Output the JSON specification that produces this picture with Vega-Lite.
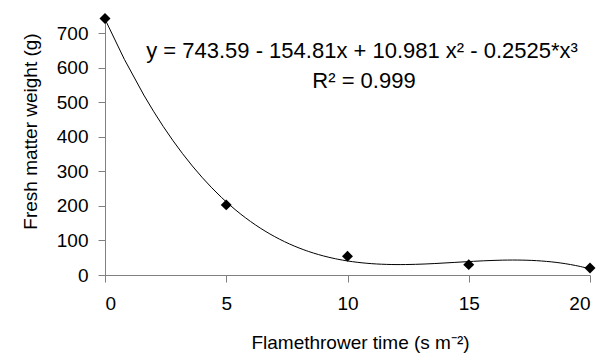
{
  "$schema": "https://vega.github.io/schema/vega-lite/v6.json",
  "autosize": {"type": "none"},
  "width": 485,
  "height": 259,
  "padding": {"left": 105, "top": 16, "right": 13, "bottom": 87},
  "background": "white",
  "config": {
    "view": {"stroke": null},
    "font": "Liberation Sans",
    "axis": {
      "grid": false,
      "domainColor": "#808080",
      "tickColor": "#808080",
      "labelFont": "Liberation Sans",
      "titleFont": "Liberation Sans",
      "labelFontSize": 19,
      "titleFontSize": 19,
      "labelColor": "black",
      "titleColor": "black",
      "titleFontWeight": "normal",
      "tickSize": 7,
      "labelOverlap": false
    },
    "axisX": {"labelPadding": 12, "titlePadding": 20, "titleX": 255},
    "axisY": {"labelPadding": 10, "titlePadding": 16, "titleY": 115}
  },
  "data": {
    "values": [
      {"time": 0, "weight": 743},
      {"time": 5, "weight": 203},
      {"time": 10, "weight": 54},
      {"time": 15, "weight": 30},
      {"time": 20, "weight": 20}
    ]
  },
  "layer": [
    {
      "transform": [
        {"regression": "weight", "on": "time", "method": "poly", "order": 3, "extent": [0, 20]}
      ],
      "mark": {"type": "line", "color": "black", "strokeWidth": 1},
      "encoding": {
        "x": {"field": "time", "type": "quantitative", "scale": {"domain": [0, 20], "nice": false}, "axis": {"values": [0, 5, 10, 15, 20], "title": "Flamethrower time (s m⁻²)"}},
        "y": {"field": "weight", "type": "quantitative", "scale": {"domain": [0, 750], "nice": false}, "axis": {"values": [0, 100, 200, 300, 400, 500, 600, 700], "title": "Fresh matter weight (g)"}}
      }
    },
    {
      "mark": {"type": "point", "shape": "diamond", "filled": true, "color": "black", "size": 120, "opacity": 1},
      "encoding": {
        "x": {"field": "time", "type": "quantitative", "axis": {"values": [0, 5, 10, 15, 20], "title": "Flamethrower time (s m⁻²)"}},
        "y": {"field": "weight", "type": "quantitative", "axis": {"values": [0, 100, 200, 300, 400, 500, 600, 700], "title": "Fresh matter weight (g)"}}
      }
    },
    {
      "data": {"values": [{"label": "y = 743.59 - 154.81x + 10.981 x² - 0.2525*x³"}]},
      "mark": {"type": "text", "fontSize": 22, "fontWeight": "normal", "color": "black", "align": "center", "baseline": "middle"},
      "encoding": {
        "x": {"datum": 10.6, "type": "quantitative", "axis": {"values": [0, 5, 10, 15, 20], "title": "Flamethrower time (s m⁻²)"}},
        "y": {"datum": 648, "type": "quantitative", "axis": {"values": [0, 100, 200, 300, 400, 500, 600, 700], "title": "Fresh matter weight (g)"}},
        "text": {"field": "label"}
      }
    },
    {
      "data": {"values": [{"label": "R² = 0.999"}]},
      "mark": {"type": "text", "fontSize": 22, "fontWeight": "normal", "color": "black", "align": "center", "baseline": "middle"},
      "encoding": {
        "x": {"datum": 10.68, "type": "quantitative", "axis": {"values": [0, 5, 10, 15, 20], "title": "Flamethrower time (s m⁻²)"}},
        "y": {"datum": 561, "type": "quantitative", "axis": {"values": [0, 100, 200, 300, 400, 500, 600, 700], "title": "Fresh matter weight (g)"}},
        "text": {"field": "label"}
      }
    }
  ]
}
